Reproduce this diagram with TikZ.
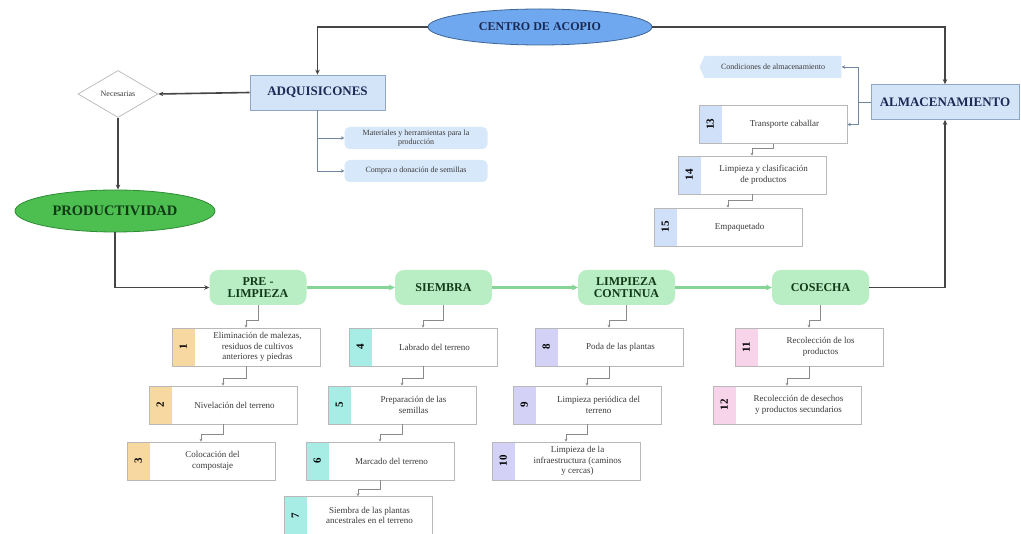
\documentclass[tikz,border=0pt]{standalone}
\usepackage{fontspec}
\setmainfont{Liberation Serif}
\usetikzlibrary{shapes.geometric,shapes.symbols,arrows.meta}
\definecolor{ellblue}{HTML}{6FA8EE}
\definecolor{ellblueline}{HTML}{3F6596}
\definecolor{hdrfill}{HTML}{D4E4F8}
\definecolor{hdrline}{HTML}{8FA6C6}
\definecolor{subfill}{HTML}{D8E8FB}
\definecolor{prodgreen}{HTML}{4DBE50}
\definecolor{prodline}{HTML}{2E8C34}
\definecolor{stagefill}{HTML}{B9EDC4}
\definecolor{stagearrow}{HTML}{86D496}
\definecolor{mainline}{HTML}{454545}
\definecolor{subline}{HTML}{8A8A8A}
\definecolor{boxgray}{HTML}{B8B8B8}
\definecolor{textgray}{HTML}{3A3A3A}
\definecolor{navy}{HTML}{1B2A55}
\definecolor{darkgreen}{HTML}{123A16}
\definecolor{taborange}{HTML}{F7D8A0}
\definecolor{tabcyan}{HTML}{A8ECE6}
\definecolor{tablav}{HTML}{D4D1F6}
\definecolor{tabpink}{HTML}{F8D4EA}
\definecolor{tabblue}{HTML}{CFE0F8}
\newcommand{\numbox}[5]{%
  \node[nbox, path picture={\fill[#4] (path picture bounding box.north west) rectangle ([xshift=23pt]path picture bounding box.south west);}] (#1) at #2 {};
  \node[numtxt, rotate=90] (#1n) at ([xshift=11.5pt]#1.west) {#3};
  \node[boxtxt] (#1t) at ([xshift=11.5pt]#1.center) {#5};
}
\newcommand{\subconn}[2]{\draw[thinconn] (#1.south) |- ([yshift=7pt]#2.north) -- (#2.north);}
\begin{document}
\begin{tikzpicture}[x=1pt,y=-1pt,
  hdrfont/.style={font=\fontsize{12}{13.5}\selectfont\bfseries},
  boxtxt/.style={font=\fontsize{9}{10.8}\selectfont, align=center, text=textgray, inner sep=0pt},
  nbox/.style={draw=boxgray, line width=0.6pt, fill=white, minimum width=148pt, minimum height=38pt, inner sep=0pt},
  numtxt/.style={font=\fontsize{11}{12}\selectfont\bfseries, text=black, inner sep=0pt},
  hdrbox/.style={draw=hdrline, line width=0.7pt, fill=hdrfill, minimum width=135pt, minimum height=35pt, inner sep=0pt, hdrfont, text=navy},
  subbox/.style={fill=subfill, rounded corners=5pt, minimum width=143pt, minimum height=22pt, inner sep=0pt, align=center, font=\fontsize{8}{9.2}\selectfont, text=textgray},
  stage/.style={fill=stagefill, rounded corners=9pt, minimum width=97pt, minimum height=35pt, inner sep=0pt, align=center, hdrfont, text=darkgreen},
  mainconn/.style={draw=mainline, line width=1.6pt, -{Stealth[length=5pt,width=4.5pt]}},
  greenconn/.style={draw=stagearrow, line width=2.2pt, -{Stealth[length=6pt,width=6pt]}},
  thinconn/.style={draw=subline, line width=0.6pt, -{Stealth[length=3pt,width=3pt]}},
  branch/.style={draw=hdrline!80!black, line width=0.9pt}
]
\useasboundingbox[fill=white] (0,0) rectangle (1021,534);

% top level
\node[ellipse, draw=ellblueline, line width=0.8pt, fill=ellblue, minimum width=224pt, minimum height=36pt, inner sep=0pt, hdrfont, text=navy] (centro) at (540,27) {CENTRO DE ACOPIO};
\node[hdrbox, font=\fontsize{13}{14}\selectfont\bfseries] (adq) at (317.5,92.5) {ADQUISICONES};
\node[hdrbox, minimum width=148pt, font=\fontsize{13}{14}\selectfont\bfseries] (alm) at (945,102) {ALMACENAMIENTO};
\node[diamond, draw=boxgray, line width=0.7pt, fill=white, minimum width=80pt, minimum height=47pt, aspect=1.7, inner sep=0pt, font=\fontsize{8}{9}\selectfont, text=textgray] (nec) at (118,94) {Necesarias};
\node[ellipse, draw=prodline, line width=0.8pt, fill=prodgreen, minimum width=200pt, minimum height=42pt, inner sep=0pt, font=\fontsize{14.5}{16}\selectfont\bfseries, text=darkgreen] (prod) at (115,211) {PRODUCTIVIDAD};

\node[subbox] (mat) at (416,138) {Materiales y herramientas para la\\producción};
\node[subbox] (comp) at (416,171) {Compra o donación de semillas};
\node[signal, signal to=west, signal pointer angle=130, fill=subfill, minimum width=142pt, minimum height=22pt, inner sep=0pt, font=\fontsize{8}{9.2}\selectfont, text=textgray] (cond) at (773,67) {Condiciones de almacenamiento};

% stages
\node[stage] (pre) at (258,287.5) {PRE -\\[-1pt]LIMPIEZA};
\node[stage] (siem) at (443.5,287.5) {SIEMBRA};
\node[stage] (limp) at (626.5,287.5) {LIMPIEZA\\[-1pt]CONTINUA};
\node[stage] (cos) at (820.5,287.5) {COSECHA};

% numbered boxes
\numbox{b1}{(246,347)}{1}{taborange}{Eliminación de malezas,\\residuos de cultivos\\anteriores y piedras}
\numbox{b2}{(223,405)}{2}{taborange}{Nivelación del terreno}
\numbox{b3}{(201,461)}{3}{taborange}{Colocación del\\compostaje}
\numbox{b4}{(423,347)}{4}{tabcyan}{Labrado del terreno}
\numbox{b5}{(402,405)}{5}{tabcyan}{Preparación de las\\semillas}
\numbox{b6}{(380,461)}{6}{tabcyan}{Marcado del terreno}
\numbox{b7}{(358,515.5)}{7}{tabcyan}{Siembra de las plantas\\ancestrales en el terreno}
\numbox{b8}{(609,347)}{8}{tablav}{Poda de las plantas}
\numbox{b9}{(587,405)}{9}{tablav}{Limpieza periódica del\\terreno}
\numbox{b10}{(566,461)}{10}{tablav}{Limpieza de la\\infraestructura (caminos\\y cercas)}
\numbox{b11}{(809,347)}{11}{tabpink}{Recolección de los\\productos}
\numbox{b12}{(787,405)}{12}{tabpink}{Recolección de desechos\\y productos secundarios}
\numbox{b13}{(773,124.5)}{13}{tabblue}{Transporte caballar}
\numbox{b14}{(752,175)}{14}{tabblue}{Limpieza y clasificación\\de productos}
\numbox{b15}{(728,227)}{15}{tabblue}{Empaquetado}

% main connectors
\draw[mainconn] (centro.west) -| (adq.north);
\draw[mainconn] (centro.east) -| (alm.north);
\draw[mainconn] (adq.west) -- (nec.east);
\draw[mainconn] (nec.south) -- (nec.south |- prod.north);
\draw[mainconn] (prod.south) |- (pre.west);
\draw[mainconn] (cos.east) -| (alm.south);

\draw[greenconn] (pre.east) -- (siem.west);
\draw[greenconn] (siem.east) -- (limp.west);
\draw[greenconn] (limp.east) -- (cos.west);

% acquisition branches
\draw[branch, -{Stealth[length=3.5pt,width=3.5pt]}] (adq.south) |- (mat.west);
\draw[branch, -{Stealth[length=3.5pt,width=3.5pt]}] (adq.south) |- (comp.west);

% storage branches
\coordinate (aj) at (858,102);
\draw[branch] (alm.west) -- (aj);
\draw[branch, -{Stealth[length=3.5pt,width=3.5pt]}] (aj) |- (cond.east);
\draw[branch, -{Stealth[length=3.5pt,width=3.5pt]}] (aj) |- (b13.east);

% sub connectors
\subconn{pre}{b1}
\subconn{b1}{b2}
\subconn{b2}{b3}
\subconn{siem}{b4}
\subconn{b4}{b5}
\subconn{b5}{b6}
\subconn{b6}{b7}
\subconn{limp}{b8}
\subconn{b8}{b9}
\subconn{b9}{b10}
\subconn{cos}{b11}
\subconn{b11}{b12}
\subconn{b13}{b14}
\subconn{b14}{b15}
\end{tikzpicture}
\end{document}
